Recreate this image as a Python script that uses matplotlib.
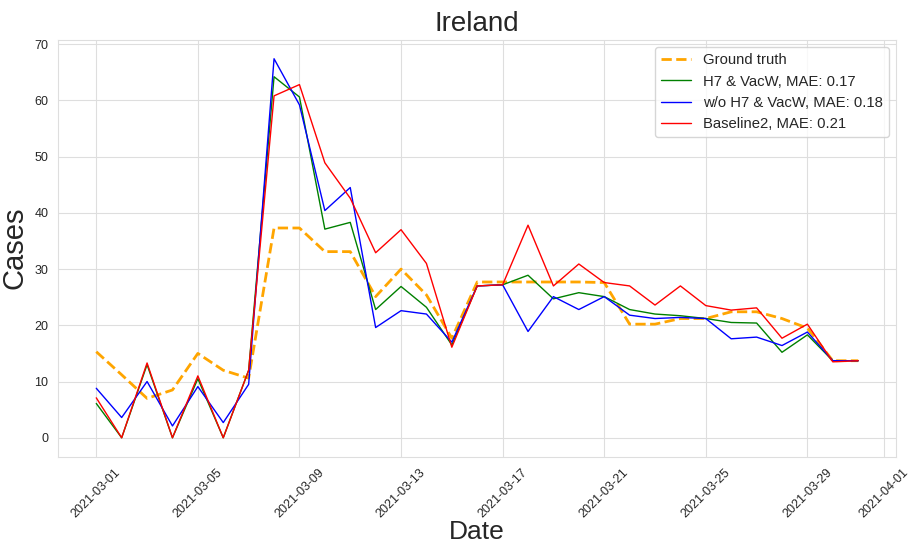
import numpy as np
import pandas as pd
import matplotlib
matplotlib.use("Agg")
import matplotlib.pyplot as plt
import matplotlib.dates as mdates
import seaborn as sns

dates = pd.date_range("2021-03-01", "2021-03-31", freq="D")

ground_truth = [15.3, 11.2, 7.0, 8.5, 15.0, 12.0, 10.6, 37.3, 37.3, 33.1,
                33.1, 25.1, 30.0, 25.4, 17.7, 27.7, 27.7, 27.7, 27.7, 27.7,
                27.6, 20.2, 20.2, 21.2, 21.2, 22.4, 22.4, 21.2, 19.5, 13.7, 13.7]
h7_vacw = [6.1, 0.0, 13.0, 0.0, 10.5, 0.0, 12.0, 64.2, 60.6, 37.1,
           38.3, 22.8, 26.9, 23.2, 16.5, 27.0, 27.2, 28.9, 24.7, 25.8,
           25.1, 22.8, 22.0, 21.7, 21.2, 20.5, 20.4, 15.2, 18.3, 13.7, 13.7]
wo_h7_vacw = [8.8, 3.6, 10.0, 2.1, 9.1, 2.7, 9.5, 67.4, 59.2, 40.4,
              44.5, 19.6, 22.6, 22.0, 17.0, 27.0, 27.2, 18.9, 25.1, 22.8,
              25.1, 21.8, 21.2, 21.4, 21.2, 17.6, 17.9, 16.4, 18.8, 13.7, 13.7]
baseline2 = [7.1, 0.0, 13.3, 0.0, 11.0, 0.0, 12.0, 60.8, 62.8, 48.9,
             42.6, 32.9, 37.0, 31.0, 16.1, 27.0, 27.2, 37.8, 27.0, 30.9,
             27.6, 27.0, 23.6, 27.0, 23.5, 22.7, 23.1, 17.7, 20.2, 13.5, 13.7]

sns.set_style("whitegrid", {"grid.color": "0.87", "axes.edgecolor": "0.87"})
plt.rcParams["font.family"] = ["Liberation Sans", "DejaVu Sans"]

fig, ax = plt.subplots(figsize=(9.09, 5.45), dpi=100)

ax.plot(dates, ground_truth, color="orange", linestyle="--", linewidth=2,
        label="Ground truth")
ax.plot(dates, h7_vacw, color="green", linewidth=1, label="H7 & VacW, MAE: 0.17")
ax.plot(dates, wo_h7_vacw, color="blue", linewidth=1, label="w/o H7 & VacW, MAE: 0.18")
ax.plot(dates, baseline2, color="red", linewidth=1, label="Baseline2, MAE: 0.21")

ax.xaxis.set_major_locator(mdates.DayLocator(bymonthday=[1, 5, 9, 13, 17, 21, 25, 29]))
ax.xaxis.set_major_formatter(mdates.DateFormatter("%Y-%m-%d"))
plt.setp(ax.get_xticklabels(), rotation=45)
ax.tick_params(labelsize=9, colors="0.15")

ax.set_title("Ireland", fontsize=20)
ax.set_xlabel("Date", fontsize=19, labelpad=0)
ax.set_ylabel("Cases", fontsize=21)
ax.legend(fontsize=10.7, loc="upper right")

fig.subplots_adjust(left=0.064, right=0.986, top=0.927, bottom=0.162)
fig.savefig("out.png", dpi=100)
